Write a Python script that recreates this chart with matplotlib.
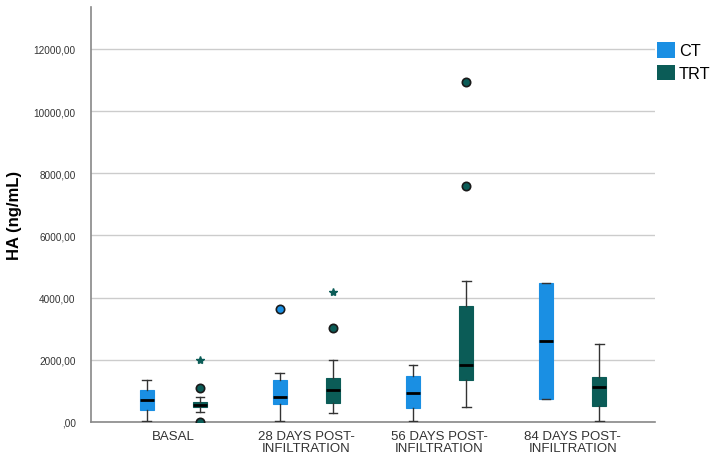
import matplotlib
matplotlib.use("Agg")
import matplotlib.pyplot as plt
from matplotlib.patches import Patch
from matplotlib.ticker import FuncFormatter

plt.rcParams['font.family'] = ['Liberation Sans', 'DejaVu Sans']

categories = ['BASAL', '28 DAYS POST-\nINFILTRATION', '56 DAYS POST-\nINFILTRATION', '84 DAYS POST-\nINFILTRATION']
groups = ['CT', 'TRT']

ct_whislo = [20, 25, 25, 740]
ct_q1 = [386, 575, 460, 740]
ct_med = [717, 820, 943, 2606]
ct_q3 = [1030, 1351, 1490, 4482]
ct_whishi = [1351, 1590, 1834, 4482]
ct_outliers = [[], [3636], [], []]
ct_extremes = [[], [], [], []]

trt_whislo = [312, 275, 483, 30]
trt_q1 = [473, 615, 1361, 524]
trt_med = [557, 1020, 1834, 1116]
trt_q3 = [634, 1406, 3742, 1458]
trt_whishi = [804, 2005, 4527, 2500]
trt_outliers = [[1084, 0], [3024], [10949, 7603], []]
trt_extremes = [[1990], [4172], [], []]

yticks = [0, 2000, 4000, 6000, 8000, 10000, 12000]

ct_color = '#1a8fe3'
trt_color = '#0b5c57'

fig = plt.figure(figsize=(7.24, 4.64), dpi=100)
ax = fig.add_axes([91/724, 1-423/464, (655-91)/724, (423-8)/464])

def stats(wlo, q1, med, q3, whi, fl):
    return [dict(whislo=a, q1=b, med=c, q3=d, whishi=e, fliers=f)
            for a, b, c, d, e, f in zip(wlo, q1, med, q3, whi, fl)]

offset = 0.2
width = 0.105
series = [
    (ct_whislo, ct_q1, ct_med, ct_q3, ct_whishi, ct_outliers, ct_extremes, ct_color, -offset),
    (trt_whislo, trt_q1, trt_med, trt_q3, trt_whishi, trt_outliers, trt_extremes, trt_color, offset),
]
for wlo, q1, med, q3, whi, fl, ex, col, off in series:
    pos = [i + off for i in range(len(categories))]
    ax.bxp(stats(wlo, q1, med, q3, whi, fl), positions=pos, widths=width,
           capwidths=0.065, patch_artist=True,
           boxprops=dict(facecolor=col, edgecolor=col, linewidth=0.8),
           medianprops=dict(color='black', linewidth=2),
           whiskerprops=dict(color='#333333', linewidth=1),
           capprops=dict(color='#333333', linewidth=1),
           flierprops=dict(marker='o', markerfacecolor=col, markeredgecolor='#1a1a1a',
                           markersize=6, markeredgewidth=1.2),
           zorder=3)
    for i, vals in enumerate(ex):
        ax.plot([pos[i]] * len(vals), vals, linestyle='none', marker='*',
                color=col, markersize=6, zorder=3)

ax.set_xlim(-0.617, 3.617)
ax.set_ylim(0, 13350)
ax.set_xticks(range(len(categories)))
ax.set_xticklabels(categories, fontsize=9.5, linespacing=0.95, color='#333333')
ax.set_yticks(yticks)
ax.yaxis.set_major_formatter(FuncFormatter(lambda v, p: ',00' if v == 0 else f'{int(v)},00'))
ax.tick_params(axis='y', length=0, pad=11, labelsize=7.2, labelcolor='#333333')
ax.tick_params(axis='x', length=0, pad=6)
ax.grid(axis='y', color='#cccccc', linewidth=1, zorder=0)
ax.set_axisbelow(True)
for s in ['top', 'right']:
    ax.spines[s].set_visible(False)
ax.spines['left'].set_color('#888888')
ax.spines['bottom'].set_color('#888888')
ax.spines['left'].set_linewidth(1.2)
ax.spines['bottom'].set_linewidth(1.2)
fig.text(15/724, 1-215.5/464, 'HA (ng/mL)', rotation=90, ha='center', va='center',
         fontsize=12, fontweight='bold')

handles = [Patch(facecolor=ct_color, edgecolor='none'), Patch(facecolor=trt_color, edgecolor='none')]
fig.legend(handles, groups, loc='upper left', bbox_to_anchor=(657/724, 1-43/464),
           frameon=False, fontsize=11.7, handlelength=1.1, handleheight=1.1,
           handletextpad=0.25, labelspacing=0.4, borderpad=0, borderaxespad=0)

fig.savefig('out.png', dpi=100)
